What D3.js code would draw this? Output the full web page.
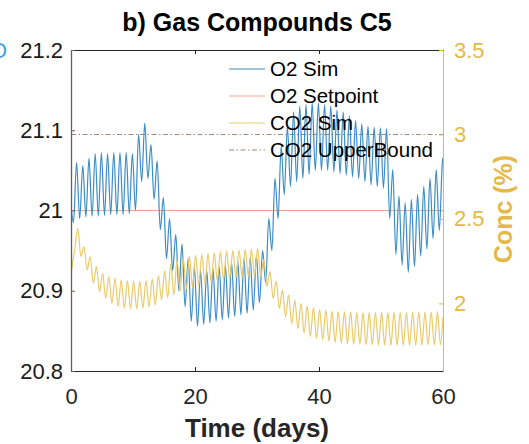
<!DOCTYPE html>
<html>
<head>
<meta charset="utf-8">
<script src="https://cdn.jsdelivr.net/npm/d3@7"></script>
<style>
  html, body { margin: 0; padding: 0; background: #fff; }
  svg { display: block; font-family: 'Liberation Sans', Arial, sans-serif; }
</style>
</head>
<body>
<svg id="chart" width="529" height="444"></svg>
<script>
// Data (one oscillation per day)
// O2 Sim: daily trough (at day + 0.4) and peak (at day + 0.9), in %
const o2Start = 21.005;
const o2End = 21.066;
const o2Trough = [
  20.985, 20.99, 20.992, 20.993, 20.993, 20.994, 20.995, 20.995, 20.995, 20.996,
  21.0, 21.036, 21.04, 21.014, 20.976, 20.94, 20.925, 20.9, 20.88, 20.862,
  20.856, 20.858, 20.86, 20.862, 20.864, 20.866, 20.868, 20.87, 20.872, 20.876,
  20.885, 20.91, 20.95, 20.99, 21.02, 21.03, 21.036, 21.04, 21.045, 21.05,
  21.05, 21.05, 21.048, 21.046, 21.044, 21.042, 21.04, 21.036, 21.032, 21.03,
  21.028, 20.99, 20.945, 20.932, 20.923, 20.93, 20.943, 20.952, 20.965, 20.975
];
const o2Peak = [
  21.06, 21.056, 21.065, 21.071, 21.072, 21.071, 21.072, 21.072, 21.072, 21.071,
  21.095, 21.109, 21.082, 21.062, 21.016, 20.99, 20.97, 20.958, 20.94, 20.93,
  20.925, 20.925, 20.928, 20.93, 20.932, 20.935, 20.937, 20.94, 20.942, 20.944,
  20.95, 20.99, 21.04, 21.08, 21.105, 21.123, 21.13, 21.132, 21.134, 21.134,
  21.132, 21.13, 21.125, 21.123, 21.118, 21.112, 21.108, 21.105, 21.104, 21.103,
  21.102, 21.051, 21.018, 21.01, 21.014, 21.02, 21.03, 21.04, 21.051, 21.06
];
// CO2 Sim: daily peak (at day + 0.1) and trough (at day + 0.6), in %
const co2End = 1.92;
const co2Peak = [
  2.2, 2.445, 2.336, 2.277, 2.218, 2.178, 2.159, 2.149, 2.139, 2.135,
  2.132, 2.13, 2.135, 2.145, 2.165, 2.195, 2.235, 2.255, 2.27, 2.28,
  2.285, 2.29, 2.295, 2.3, 2.305, 2.31, 2.313, 2.316, 2.319, 2.322,
  2.325, 2.26, 2.19, 2.13, 2.08, 2.05, 2.02, 2.0, 1.985, 1.975,
  1.965, 1.96, 1.955, 1.952, 1.95, 1.948, 1.946, 1.945, 1.945, 1.945,
  1.945, 1.945, 1.945, 1.945, 1.946, 1.947, 1.948, 1.948, 1.948, 1.95
];
const co2Trough = [
  2.32, 2.277, 2.198, 2.12, 2.07, 2.03, 2.0, 1.982, 1.972, 1.968,
  1.968, 1.972, 1.98, 1.99, 2.02, 2.035, 2.05, 2.07, 2.085, 2.095,
  2.105, 2.115, 2.125, 2.135, 2.14, 2.145, 2.15, 2.155, 2.16, 2.165,
  2.16, 2.1, 2.03, 1.97, 1.92, 1.88, 1.85, 1.825, 1.805, 1.793,
  1.784, 1.778, 1.77, 1.765, 1.762, 1.76, 1.758, 1.756, 1.755, 1.754,
  1.753, 1.752, 1.752, 1.752, 1.752, 1.753, 1.754, 1.755, 1.755, 1.756
];
const o2Setpoint = 21;
const co2UpperBound = 3;

const xTicks = [0, 20, 40, 60];
const yLeftTicks = [20.8, 20.9, 21, 21.1, 21.2];
const yRightTicks = [2, 2.5, 3, 3.5];
const legendLabels = ["O2 Sim", "O2 Setpoint", "CO2 Sim", "CO2 UpperBound"];

// colours
const C_O2 = "#3a8dc6";
const C_SET = "#f1a888";
const C_CO2 = "#ebca6a";
const C_UB = "#9e8878";
const C_RAX = "#e4b948";

const mLeft = 71, mRight = 443, mTop = 50, mBottom = 371;

const x = d3.scaleLinear().domain([0, 60]).range([mLeft, mRight]);
const yL = d3.scaleLinear().domain([20.8, 21.2]).range([mBottom, mTop]);
const yR = d3.scaleLinear().domain([1.6, 3.5]).range([mBottom, mTop]);

const svg = d3.select("#chart");

svg.append("defs").append("clipPath").attr("id", "plotclip")
  .append("rect").attr("x", mLeft).attr("y", mTop)
  .attr("width", mRight - mLeft).attr("height", mBottom - mTop);

// build the daily oscillation points
const o2Pts = [[0, o2Start]]
  .concat(o2Trough.flatMap((t, i) => [[i + 0.4, t], [i + 0.9, o2Peak[i]]]))
  .concat([[60, o2End]]);
const co2Pts = co2Peak.flatMap((p, i) => [[i + 0.1, p], [i + 0.6, co2Trough[i]]])
  .concat([[60, co2End]]);

const plot = svg.append("g").attr("clip-path", "url(#plotclip)");

// reference lines
plot.append("line")
  .attr("x1", x(0)).attr("x2", x(60))
  .attr("y1", yL(o2Setpoint)).attr("y2", yL(o2Setpoint))
  .attr("stroke", C_SET).attr("stroke-width", 1);

plot.append("line")
  .attr("x1", x(0)).attr("x2", x(60))
  .attr("y1", yR(co2UpperBound)).attr("y2", yR(co2UpperBound))
  .attr("stroke", C_UB).attr("stroke-width", 1)
  .attr("stroke-dasharray", "5,2.5,1.5,2.5");

const lineL = d3.line().x(d => x(d[0])).y(d => yL(d[1])).curve(d3.curveMonotoneX);
const lineR = d3.line().x(d => x(d[0])).y(d => yR(d[1])).curve(d3.curveMonotoneX);

plot.append("path").datum(o2Pts)
  .attr("d", lineL).attr("fill", "none")
  .attr("stroke", C_O2).attr("stroke-width", 1.2);

plot.append("path").datum(co2Pts)
  .attr("d", lineR).attr("fill", "none")
  .attr("stroke", C_CO2).attr("stroke-width", 1.2);

// axes
svg.append("g")
  .attr("transform", `translate(0,${mBottom})`)
  .call(d3.axisBottom(x).tickValues(xTicks).tickSizeInner(-4).tickSizeOuter(0).tickPadding(17))
  .call(g => {
    g.select(".domain").attr("stroke", "#262626");
    g.selectAll(".tick line").attr("stroke", "#262626");
    g.selectAll("text").attr("font-size", 22).attr("fill", "#262626").attr("font-family", "Liberation Sans, Arial");
  });

svg.append("g")
  .attr("transform", `translate(0,${mTop})`)
  .call(d3.axisTop(x).tickValues(xTicks).tickSizeInner(-4).tickSizeOuter(0).tickFormat(""))
  .call(g => {
    g.select(".domain").attr("stroke", "#262626");
    g.selectAll(".tick line").attr("stroke", "#262626");
  });

svg.append("g")
  .attr("transform", `translate(${mLeft},0)`)
  .call(d3.axisLeft(yL).tickValues(yLeftTicks).tickSizeInner(-4).tickSizeOuter(0).tickPadding(8)
    .tickFormat(d3.format("~g")))
  .call(g => {
    g.select(".domain").attr("stroke", "#6e5a5a").attr("stroke-width", 1.3);
    g.selectAll(".tick line").attr("stroke", "#6e5a5a");
    g.selectAll("text").attr("font-size", 22).attr("fill", "#1a1a1a").attr("font-family", "Liberation Sans, Arial");
  });

svg.append("g")
  .attr("transform", `translate(${mRight},0)`)
  .call(d3.axisRight(yR).tickValues(yRightTicks).tickSizeInner(-4).tickSizeOuter(0).tickPadding(11)
    .tickFormat(d3.format("~g")))
  .call(g => {
    g.select(".domain").attr("stroke", C_RAX);
    g.selectAll(".tick line").attr("stroke", C_RAX);
    g.selectAll("text").attr("font-size", 22).attr("fill", C_RAX).attr("font-family", "Liberation Sans, Arial");
  });

// titles
svg.append("text")
  .attr("x", (mLeft + mRight) / 2).attr("y", 31)
  .attr("text-anchor", "middle")
  .attr("font-size", 25).attr("font-weight", "bold").attr("fill", "#000")
  .text("b) Gas Compounds C5");

svg.append("text")
  .attr("x", (mLeft + mRight) / 2).attr("y", 437)
  .attr("text-anchor", "middle")
  .attr("font-size", 26).attr("font-weight", "bold").attr("fill", "#262626")
  .text("Time (days)");

svg.append("text")
  .attr("transform", "translate(512,209) rotate(-90)")
  .attr("text-anchor", "middle")
  .attr("font-size", 25).attr("font-weight", "bold").attr("fill", C_RAX)
  .text("Conc (%)");

// clipped left label fragment, as in the reference
svg.append("text")
  .attr("x", 7).attr("y", 58)
  .attr("text-anchor", "end")
  .attr("font-size", 22).attr("fill", "#3f9fe0")
  .text("O");

// legend (no box)
const legendColors = [C_O2, C_SET, C_CO2, C_UB];
const legend = svg.append("g");
legendLabels.forEach((lab, i) => {
  const ly = 69 + i * 27;
  legend.append("line")
    .attr("x1", 229).attr("x2", 265).attr("y1", ly).attr("y2", ly)
    .attr("stroke", legendColors[i]).attr("stroke-width", 1.1)
    .attr("stroke-dasharray", i === 3 ? "5,2.5,1.5,2.5" : null);
  legend.append("text")
    .attr("x", 270).attr("y", ly + 7)
    .attr("font-size", 20.5).attr("fill", "#000")
    .text(lab);
});
</script>
</body>
</html>
